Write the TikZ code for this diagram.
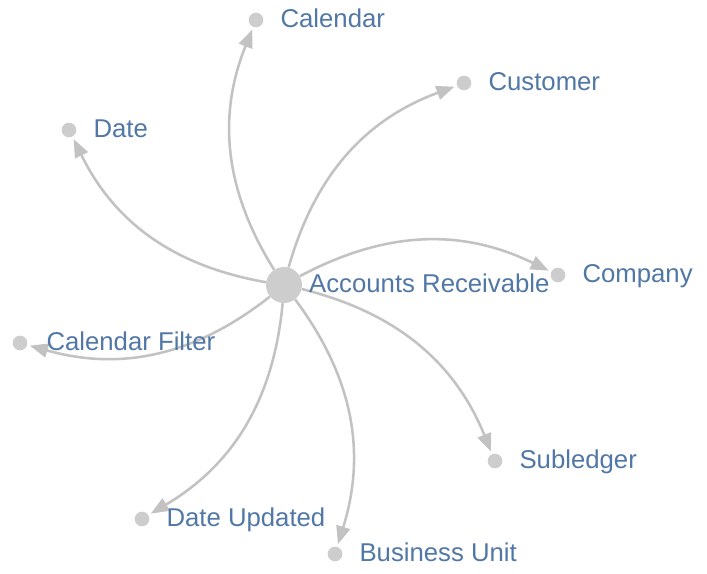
\documentclass[tikz,border=0pt]{standalone}
\usepackage{fontspec}
\setmainfont{Liberation Sans}
\usetikzlibrary{positioning}
\usetikzlibrary{arrows.meta}
\definecolor{EDGE}{HTML}{C2C2C2}
\definecolor{DOT}{HTML}{CDCDCD}
\definecolor{LABEL}{HTML}{5077A5}
\tikzset{
	every node/.style = {font=\fontsize{19.3}{23}\selectfont},
	entity/.style = {circle, fill=DOT, minimum size=11pt, inner sep=0pt},
	hub/.style = {circle, fill=DOT, minimum size=27pt, inner sep=0pt},
	tag/.style = {text=LABEL, inner sep=0pt, text height=1.1em, text depth=0pt},
	link/.style = {draw=EDGE, line width=1.9pt, -{Triangle[length=13.5pt, width=10.5pt]}, bend left=27, shorten >=2pt}
}

\begin{document}
\begin{tikzpicture}[x=0.75pt, y=-0.75pt]
		\useasboundingbox (0,0) rectangle (707,574);
		% hub
		\node[hub] (ar) at (284,285) {};
		% entities
		\node[entity] (calendar) at (256,20) {};
		\node[entity] (customer) at (464,83) {};
		\node[entity] (date) at (69,130) {};
		\node[entity] (company) at (558,275) {};
		\node[entity] (calfilter) at (20,343) {};
		\node[entity] (subledger) at (495,461) {};
		\node[entity] (dateupd) at (142,519) {};
		\node[entity] (bunit) at (335,554) {};
		% links
		\foreach \t in {calendar, customer, date, company, calfilter, subledger, dateupd, bunit}
			\draw[link] (ar) to (\t);
		% labels
		\node[tag, right=5pt of ar] (arname) {Accounts Receivable};
		\node[tag, right=12.5pt of calendar] (calendarname) {Calendar};
		\node[tag, right=12.5pt of customer] (customername) {Customer};
		\node[tag, right=12.5pt of date] (datename) {Date};
		\node[tag, right=12.5pt of company] (companyname) {Company};
		\node[tag, right=14pt of calfilter] (calfiltername) {Calendar Filter};
		\node[tag, right=12.5pt of subledger] (subledgername) {Subledger};
		\node[tag, right=12.5pt of dateupd] (dateupdname) {Date Updated};
		\node[tag, right=12.5pt of bunit] (bunitname) {Business Unit};
	\end{tikzpicture}
\end{document}
